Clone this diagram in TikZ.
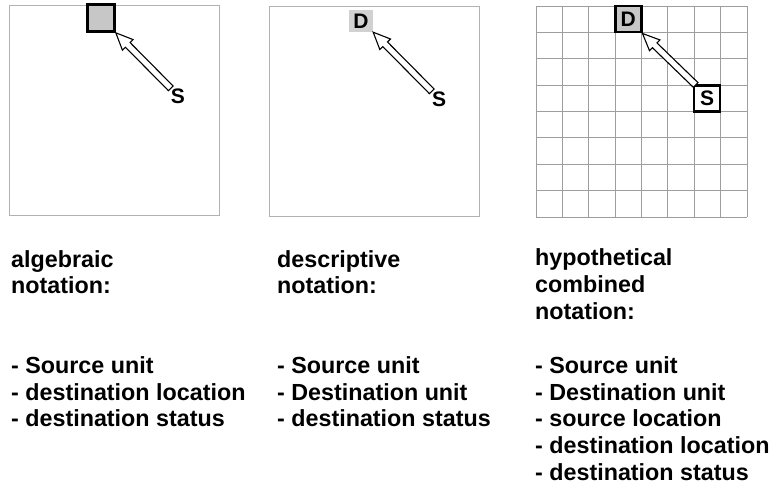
\documentclass[tikz,border=0pt]{standalone}
\usepackage{fontspec}
\setmainfont{Liberation Sans}
\usetikzlibrary{calc}

\newcommand{\hollowarrow}[2]{%
\coordinate (tail) at (#1);
\coordinate (tip) at (#2);
\coordinate (hb) at ($(tip)!17pt!(tail)$);
\draw[blockarrow] (tip) -- ($(hb)!7.5pt!90:(tail)$) -- ($(hb)!3.3pt!90:(tail)$)
  -- ($(tail)!3.3pt!-90:(tip)$) -- ($(tail)!3.3pt!90:(tip)$)
  -- ($(hb)!3.3pt!-90:(tail)$) -- ($(hb)!7.5pt!-90:(tail)$) -- cycle;
}

\begin{document}
\begin{tikzpicture}[x=1pt,y=-1pt,
  panel/.style={draw=black!30,line width=0.9pt},
  gridline/.style={draw=black!38,line width=0.9pt},
  blockarrow/.style={draw=black,fill=white,line width=1.1pt,line join=miter},
  unitbox/.style={draw=black,line width=2.6pt,minimum size=26pt,inner sep=0pt},
  letter/.style={font=\fontsize{21}{21}\selectfont\bfseries,inner sep=0pt},
  notes/.style={font=\fontsize{23.3}{26.7}\selectfont\bfseries,anchor=base west,align=left,inner sep=0pt}]
\useasboundingbox (0,0) rectangle (769,487);

% algebraic
\draw[panel] (9,5) rectangle (219,215);
\node[unitbox,fill=black!22,minimum size=27pt] (D1) at (101,18){};
\node[letter] (S1) at (178,96){S};
\hollowarrow{S1.north west}{D1.south east}

% descriptive
\draw[panel] (269,6) rectangle (479,216);
\node[letter,fill=black!18,minimum width=24pt,minimum height=22pt] (D2) at (361,21){D};
\node[letter] (S2) at (439,99){S};
\hollowarrow{S2.north west}{D2.south east}

% hypothetical combined
\foreach \i in {0,...,8}{
  \draw[gridline] (536+26.375*\i,6) -- (536+26.375*\i,217);
  \draw[gridline] (536,6+26.375*\i) -- (747,6+26.375*\i);
}
\node[unitbox,letter,draw,line width=2.6pt,minimum size=26pt,fill=black!22] (D3) at (628.2,19.2){D};
\node[unitbox,letter,draw,line width=2.6pt,minimum size=26pt,fill=white] (S3) at (707,98.3){S};
\hollowarrow{$(S3.north west)+(3,1)$}{D3.south east}

% base anchor sits on the last line
\node[notes] (algHead) at (11,293.7){algebraic\\notation:};
\node[notes] (algList) at (11,426.9){- Source unit\\- destination location\\- destination status};
\node[notes] (descHead) at (277,293.7){descriptive\\notation:};
\node[notes] (descList) at (277,426.9){- Source unit\\- Destination unit\\- destination status};
\node[notes] (hypHead) at (535,319){hypothetical\\combined\\notation:};
\node[notes] (hypList) at (535,480.3){- Source unit\\- Destination unit\\- source location\\- destination location\\- destination status};
\end{tikzpicture}
\end{document}
